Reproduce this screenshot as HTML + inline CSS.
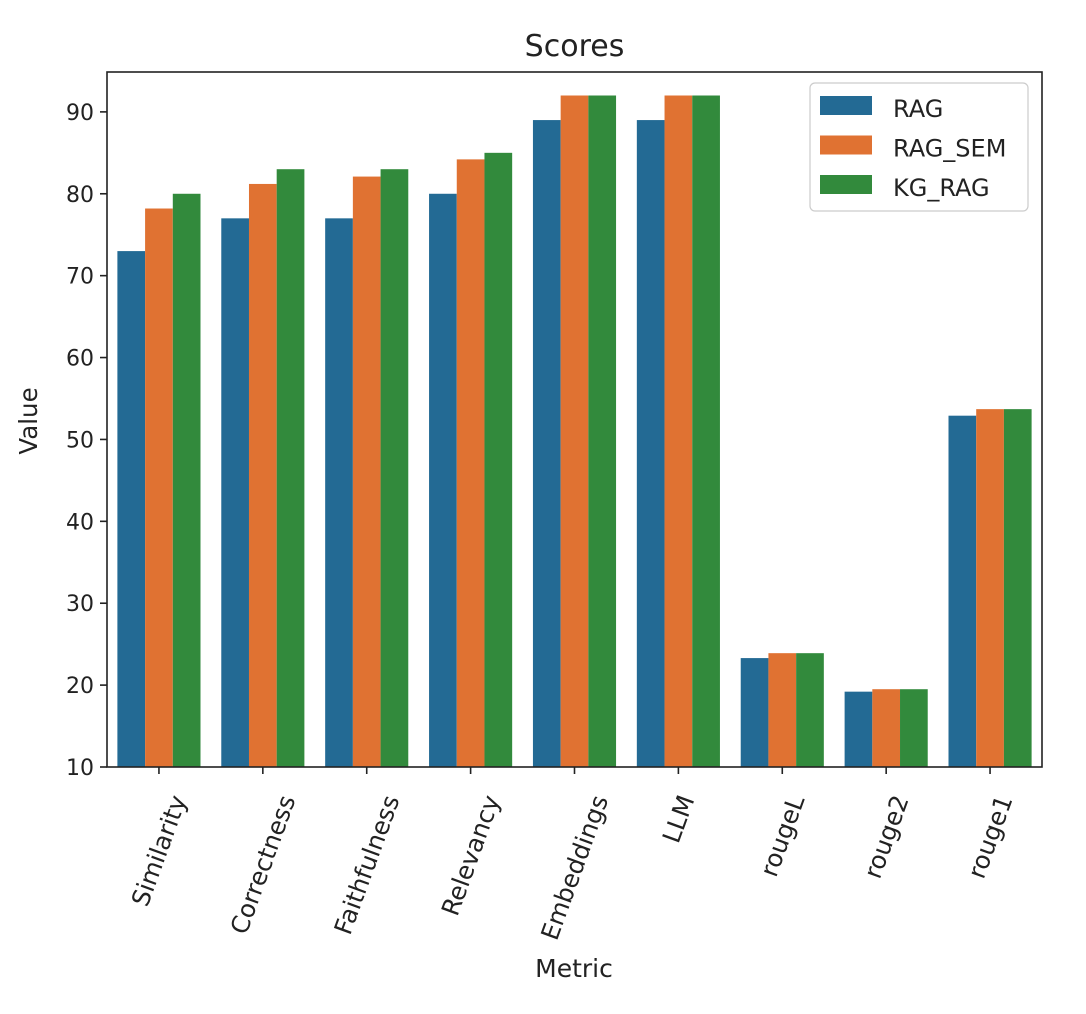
<!DOCTYPE html>
<html><head><meta charset="utf-8"><style>body{margin:0;background:#fff}svg{display:block;font-family:"DejaVu Sans","Liberation Sans",sans-serif}</style></head>
<body>
<svg id="chart" width="1086" height="1014" xmlns="http://www.w3.org/2000/svg"></svg>
<script>
const categories=["Similarity","Correctness","Faithfulness","Relevancy","Embeddings","LLM","rougeL","rouge2","rouge1"];
const seriesNames=["RAG","RAG_SEM","KG_RAG"];
const ragValues=[73,77,77,80,89,89,23.3,19.2,52.9];
const ragSemValues=[78.2,81.2,82.1,84.2,92,92,23.9,19.5,53.7];
const kgRagValues=[80,83,83,85,92,92,23.9,19.5,53.7];
const yTicks=[10,20,30,40,50,60,70,80,90];
const colors=["#236a94","#e07232","#328a3c"];
const svg=document.getElementById('chart');const NS="http://www.w3.org/2000/svg";
const L=107,R=1042,T=72,B=767,yMin=10,yMax=94.87;
function y(v){return B-(v-yMin)/(yMax-yMin)*(B-T);}
const bw=(R-L)/categories.length;
function xc(i){return L+bw*(i+0.5);}
function mk(t,a,txt){const e=document.createElementNS(NS,t);for(const k in a)e.setAttribute(k,a[k]);if(txt!==undefined)e.textContent=txt;svg.appendChild(e);return e;}
const all=[ragValues,ragSemValues,kgRagValues];
all.forEach((vals,s)=>{vals.forEach((v,i)=>{const w=bw*0.8/3;const r=mk('rect',{x:xc(i)-bw*0.4+s*w,y:y(v),width:w,height:B-y(v),fill:colors[s]});

});});
const frame=mk('rect',{x:L,y:T,width:R-L,height:B-T,fill:'none',stroke:'#222','stroke-width':1.6});

yTicks.forEach(t=>{const ln=mk('line',{x1:L-7,x2:L,y1:y(t),y2:y(t),stroke:'#222','stroke-width':1.6});
const tx=mk('text',{x:L-13,y:y(t)+8,'text-anchor':'end','font-size':22,fill:'#222'},t);});
const FS=24.5,ang=70*Math.PI/180;
categories.forEach((c,i)=>{const ln=mk('line',{x1:xc(i),x2:xc(i),y1:B,y2:B+7,stroke:'#222','stroke-width':1.6});
const tx=mk('text',{x:0,y:0,'text-anchor':'middle','font-size':FS,fill:'#222'},c);
const len=tx.getComputedTextLength();const half=(len*Math.sin(ang)+FS*Math.cos(ang))/2;
const cx=xc(i),cy=792+half;
tx.setAttribute('x',cx);tx.setAttribute('y',cy+FS*0.35);
tx.setAttribute('transform',`rotate(-70 ${cx} ${cy})`);});
const ti=mk('text',{x:(L+R)/2,y:56,'text-anchor':'middle','font-size':30,fill:'#222'},'Scores');
const xl=mk('text',{x:574,y:977,'text-anchor':'middle','font-size':25,fill:'#222'},'Metric');
const yl=mk('text',{x:37,y:421,'text-anchor':'middle','font-size':24.5,fill:'#222',transform:'rotate(-90 37 421)'},'Value');
const lg=mk('rect',{x:810,y:83,width:218,height:128,rx:5,fill:'#fff','fill-opacity':0.85,stroke:'#ccc','stroke-width':1.2});
seriesNames.forEach((n,s)=>{const yy=96+s*39.5;const p=mk('rect',{x:820,y:yy,width:52,height:19,fill:colors[s]});
const t=mk('text',{x:893,y:yy+21,'font-size':24,fill:'#222'},n);});
</script>
</body></html>
